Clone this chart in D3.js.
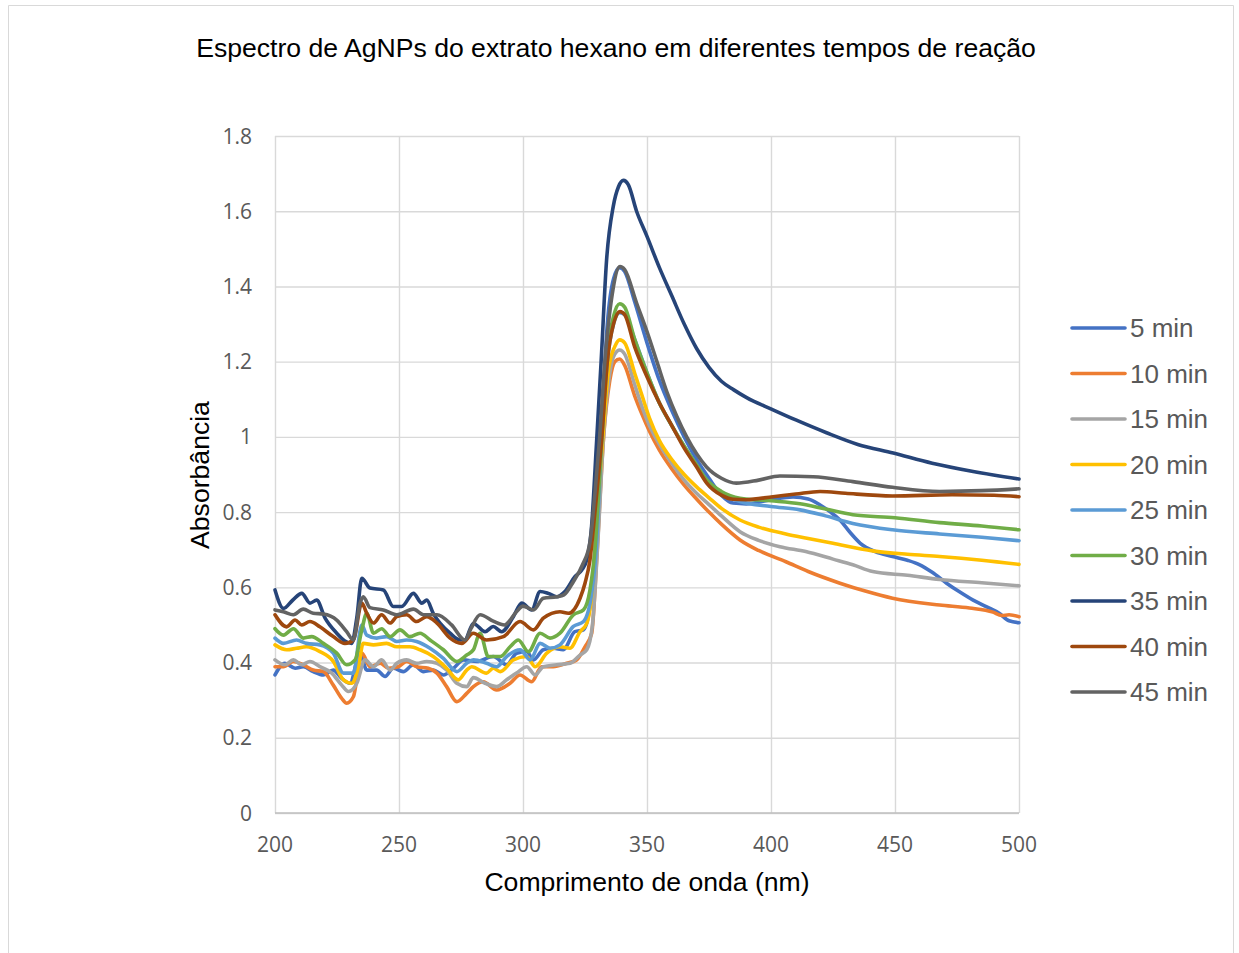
<!DOCTYPE html>
<html lang="pt">
<head>
<meta charset="UTF-8">
<title>Espectro de AgNPs</title>
<script src="https://cdn.jsdelivr.net/npm/d3@7"></script>
<style>
  html, body { margin: 0; padding: 0; background: #fff; overflow: hidden; }
  svg { display: block; }
</style>
</head>
<body>
<div id="chart"></div>
<script>
// legend / series
const seriesNames = ["5 min", "10 min", "15 min", "20 min", "25 min", "30 min", "35 min", "40 min", "45 min"]
const seriesColors = ["#4472C4", "#ED7D31", "#A5A5A5", "#FFC000", "#5B9BD5", "#70AD47", "#264478", "#9E480E", "#636363"]

const xTicks = [200, 250, 300, 350, 400, 450, 500]
const xTickLabels = ["200", "250", "300", "350", "400", "450", "500"]
const yTicks = [0, 0.2, 0.4, 0.6, 0.8, 1, 1.2, 1.4, 1.6, 1.8]
const yTickLabels = ["0", "0.2", "0.4", "0.6", "0.8", "1", "1.2", "1.4", "1.6", "1.8"]

// [wavelength nm, absorbance]
const min5 = [[200,0.367],[204,0.398],[208.1,0.385],[211.4,0.389],[215.4,0.376],[219.5,0.367],[223.5,0.38],[226.9,0.358],[230.2,0.345],[234.3,0.425],[237,0.38],[241,0.38],[244.4,0.363],[247.7,0.385],[251.7,0.376],[255.8,0.394],[259.9,0.376],[263.8,0.38],[267.9,0.367],[272,0.385],[276,0.407],[281.4,0.403],[288,0.416],[293.4,0.394],[297.4,0.425],[301.5,0.429],[304.2,0.407],[308.2,0.434],[312.2,0.438],[316.2,0.434],[320.9,0.482],[324.4,0.487],[327.7,0.584],[329.5,0.75],[331.5,1.0],[334,1.3],[336.5,1.42],[339,1.45],[341,1.44],[345,1.36],[350,1.25],[355,1.15],[360,1.07],[365,1.0],[370,0.94],[375,0.89],[380,0.845],[384.7,0.824],[390,0.822],[400,0.833],[408.9,0.84],[415,0.835],[419.8,0.819],[424,0.8],[427.8,0.779],[432,0.745],[436,0.717],[442,0.695],[449,0.682],[455,0.672],[460,0.66],[465,0.64],[470.8,0.611],[476,0.588],[481.5,0.566],[487,0.548],[492,0.531],[496,0.511],[500,0.506]]

const min10 = [[200,0.389],[203.4,0.389],[207.4,0.403],[211.4,0.394],[215.4,0.38],[219.5,0.376],[223.5,0.34],[226.9,0.305],[228.9,0.292],[231.6,0.309],[235,0.425],[238.3,0.389],[242.4,0.398],[245.7,0.385],[249.7,0.389],[253.1,0.403],[257.1,0.389],[261.8,0.385],[265.3,0.372],[269.2,0.336],[273.3,0.296],[277.3,0.318],[280,0.336],[284,0.349],[289.4,0.327],[294.8,0.345],[298.8,0.367],[303.5,0.349],[307.5,0.389],[312.2,0.389],[317.6,0.398],[321.6,0.407],[325,0.442],[327.7,0.478],[329.7,0.673],[332.5,1.0],[335,1.15],[337,1.2],[339,1.207],[341,1.19],[345,1.11],[348,1.06],[351,1.015],[355,0.965],[360,0.915],[365,0.872],[370,0.835],[375,0.8],[380,0.768],[387.5,0.726],[395,0.698],[406,0.668],[415,0.642],[427.8,0.611],[438,0.59],[449,0.571],[468,0.553],[480,0.545],[489.5,0.534],[493,0.525],[496,0.527],[500,0.522]]

const min15 = [[200,0.407],[204,0.394],[207.4,0.407],[210.8,0.394],[214.1,0.403],[218.1,0.389],[222.9,0.372],[226.9,0.34],[229.6,0.323],[233,0.345],[236.3,0.407],[239.7,0.389],[243,0.407],[246.4,0.38],[249.1,0.398],[253.1,0.407],[257.1,0.398],[261.2,0.403],[265.3,0.398],[269.2,0.38],[273.3,0.345],[277.3,0.336],[280,0.36],[284.7,0.345],[289.4,0.336],[293.4,0.354],[297.4,0.372],[301.5,0.389],[304.9,0.367],[308.2,0.389],[313.6,0.394],[319,0.398],[323,0.42],[325.7,0.434],[328,0.5],[330,0.7],[332.5,1.0],[335,1.17],[337,1.22],[339,1.231],[341,1.22],[345,1.14],[348,1.08],[351,1.03],[355,0.98],[360,0.93],[365,0.885],[370,0.85],[375,0.82],[380,0.79],[387.5,0.748],[395,0.725],[403.6,0.708],[414,0.695],[425,0.675],[433,0.66],[441,0.642],[455,0.632],[468,0.621],[485,0.612],[500,0.604]]

const min20 = [[200,0.447],[204.7,0.434],[208.7,0.438],[212.7,0.442],[218.1,0.429],[223.5,0.403],[227.6,0.354],[230.9,0.345],[233.6,0.389],[235.6,0.451],[239.7,0.447],[245,0.451],[249.1,0.442],[254.4,0.442],[258.5,0.434],[263.8,0.416],[269.2,0.385],[273.9,0.354],[277.3,0.38],[279.3,0.389],[285.3,0.372],[288,0.385],[290.8,0.376],[296.1,0.407],[301.5,0.416],[304.9,0.389],[309.6,0.425],[314.9,0.442],[318.9,0.438],[323,0.482],[325.7,0.504],[328,0.6],[330,0.8],[332.2,1.0],[334.5,1.18],[337,1.24],[339,1.258],[341,1.25],[345,1.17],[348,1.11],[351,1.05],[355,0.99],[360,0.94],[365,0.9],[370,0.867],[375,0.838],[380,0.81],[387.5,0.779],[395,0.76],[406,0.742],[415,0.73],[425,0.717],[441,0.697],[455,0.688],[468,0.682],[485,0.672],[500,0.661]]

const min25 = [[200,0.465],[203.4,0.451],[208.7,0.46],[212.7,0.451],[218.1,0.447],[223.5,0.425],[227.6,0.372],[231.6,0.372],[235,0.5],[237,0.473],[241,0.465],[245,0.469],[249.1,0.456],[253.1,0.46],[257.1,0.456],[262.5,0.438],[267.9,0.411],[273.3,0.376],[277.3,0.398],[280,0.407],[285.3,0.398],[289.4,0.389],[293.4,0.416],[298.8,0.434],[302.9,0.407],[306.9,0.451],[310.9,0.438],[314.9,0.447],[320.3,0.496],[324.4,0.509],[327.7,0.584],[329.5,0.7],[331.8,1.0],[334,1.2],[336.5,1.3],[339,1.33],[341,1.325],[345,1.26],[350,1.17],[355,1.09],[360,1.03],[365,0.975],[370,0.925],[374,0.886],[380,0.85],[387.5,0.828],[400,0.815],[411.7,0.806],[422,0.79],[433,0.77],[449,0.753],[468,0.742],[485,0.733],[500,0.724]]

const min30 = [[200,0.49],[203.4,0.473],[207.4,0.49],[211.4,0.465],[214.8,0.469],[219.5,0.451],[224.9,0.425],[228.9,0.394],[232.3,0.407],[235,0.487],[237,0.531],[239.7,0.478],[243,0.49],[246.4,0.469],[250.4,0.487],[254.4,0.469],[258.5,0.478],[262.5,0.46],[267.9,0.434],[273.3,0.403],[277.3,0.42],[280,0.434],[282.7,0.478],[286,0.416],[290.8,0.416],[294.8,0.442],[298.1,0.46],[302.2,0.429],[306.9,0.478],[310.9,0.465],[314.9,0.478],[320.3,0.527],[324.4,0.54],[327,0.593],[329,0.7],[331.8,1.0],[334,1.22],[336.5,1.32],[339,1.354],[341,1.345],[345,1.26],[350,1.17],[355,1.09],[360,1.03],[365,0.975],[370,0.925],[374,0.886],[380,0.855],[387.5,0.837],[400,0.83],[411.7,0.822],[422,0.808],[433,0.793],[450,0.785],[468,0.772],[485,0.763],[500,0.753]]

const min35 = [[200,0.593],[203.4,0.544],[207,0.565],[210.8,0.584],[214.1,0.558],[216.8,0.566],[220.2,0.518],[224.9,0.478],[228,0.458],[230.9,0.451],[233,0.52],[235,0.624],[238.3,0.598],[243.7,0.593],[247.7,0.549],[251.1,0.549],[255.8,0.584],[259.2,0.558],[261.2,0.566],[263.8,0.531],[270.6,0.478],[274.6,0.46],[276.5,0.46],[280,0.504],[284.7,0.482],[288,0.496],[291.4,0.482],[296.1,0.522],[299.5,0.558],[303.5,0.54],[306.9,0.589],[310.2,0.584],[313.6,0.575],[316.9,0.589],[321,0.629],[323.7,0.646],[325.7,0.673],[327.5,0.75],[329.7,0.99],[331.5,1.2],[333.7,1.47],[336.4,1.613],[338.5,1.665],[340.5,1.682],[342.5,1.67],[345.8,1.6],[350,1.533],[355,1.45],[360,1.375],[365,1.3],[370,1.235],[375,1.185],[380,1.148],[385,1.125],[390,1.105],[400.8,1.072],[410,1.045],[422.4,1.011],[435,0.98],[449.3,0.957],[465,0.93],[481.5,0.908],[500,0.888]]

const min40 = [[200,0.527],[204.7,0.495],[208.1,0.513],[210.8,0.5],[214.1,0.509],[218.1,0.495],[223.5,0.469],[228.2,0.451],[231.6,0.46],[235,0.558],[237,0.531],[239.7,0.505],[243,0.527],[246.4,0.505],[249.1,0.522],[253.1,0.527],[257.1,0.509],[261.2,0.522],[265.3,0.505],[270.6,0.465],[275.3,0.451],[280,0.478],[285.3,0.46],[292.1,0.469],[298.8,0.509],[304.2,0.487],[308.2,0.518],[314.9,0.535],[318.3,0.531],[323,0.571],[325,0.611],[327,0.673],[329,0.8],[331.8,1.0],[334,1.2],[336.5,1.3],[339.1,1.333],[341,1.325],[345,1.24],[350,1.16],[355,1.09],[360,1.03],[365,0.97],[370,0.92],[374,0.878],[380,0.845],[384.7,0.834],[390,0.833],[400.8,0.841],[410,0.848],[419.8,0.855],[430,0.85],[449,0.843],[473,0.846],[490,0.845],[500,0.841]]

const min45 = [[200,0.54],[203.4,0.535],[207.4,0.527],[211.4,0.542],[215.4,0.531],[219.5,0.529],[224.9,0.513],[228.9,0.482],[231.6,0.46],[234.3,0.558],[235.6,0.575],[238.3,0.546],[243.7,0.54],[249.1,0.527],[255.8,0.542],[259.9,0.527],[265.3,0.527],[271.2,0.5],[276.6,0.46],[279,0.49],[282.7,0.527],[288,0.51],[292.5,0.5],[297.4,0.535],[300,0.55],[304.2,0.54],[308.2,0.571],[313.6,0.575],[316.5,0.58],[320.3,0.615],[324,0.66],[327,0.72],[329,0.85],[330.8,0.99],[333,1.2],[336,1.38],[339.1,1.453],[341,1.445],[345.8,1.356],[350,1.28],[354,1.2],[358,1.12],[362,1.055],[366,1.0],[370,0.955],[374,0.92],[380,0.89],[386,0.877],[395,0.885],[403.6,0.896],[417,0.894],[433,0.881],[449,0.866],[468,0.855],[485,0.857],[500,0.862]]

const allSeries = [min5, min10, min15, min20, min25, min30, min35, min40, min45]

let width = 1239
let height = 953
let margin = {top: 136, right: 220, bottom: 140, left: 275}
let innerWidth = 1019 - margin.left
let innerHeight = 813 - margin.top

var svg = d3.select("#chart")
            .append("svg")
            .attr("width", width)
            .attr("height", height)

// chart area frame: left, top and right sides (bottom falls outside the picture)
svg.append("path")
   .attr("d", "M8.5," + height + "V5.5H1233.5V" + height)
   .attr("fill", "none")
   .attr("stroke", "#d9d9d9")

var g = svg.append("g")
           .attr("transform", "translate(" + margin.left + "," + margin.top + ")")

var x = d3.scaleLinear().domain([200, 500]).range([0, innerWidth])
var y = d3.scaleLinear().domain([0, 1.8]).range([innerHeight, 0])

// gridlines
const yGrid = g.append("g")
    .call(d3.axisLeft(y).tickValues(yTicks).tickFormat("").tickSize(-innerWidth))
yGrid.select(".domain").remove()
yGrid.selectAll(".tick line").attr("stroke", "#d9d9d9").attr("stroke-width", 1.4)

const xGrid = g.append("g")
    .call(d3.axisTop(x).tickValues(xTicks).tickFormat("").tickSize(-innerHeight))
xGrid.select(".domain").remove()
xGrid.selectAll(".tick line").attr("stroke", "#d9d9d9").attr("stroke-width", 1.4)

// bottom axis line
g.append("line")
 .attr("x1", 0).attr("x2", innerWidth)
 .attr("y1", y(0)).attr("y2", y(0))
 .attr("stroke", "#bfbfbf").attr("stroke-width", 1.4)

// tick labels
yTicks.forEach(function(v, i) {
  g.append("text")
   .attr("x", -23).attr("y", y(v)).attr("dy", "0.36em")
   .attr("text-anchor", "end")
   .style("font-family", "Open Sans, sans-serif")
   .style("font-size", "21px")
   .attr("fill", "#595959")
   .text(yTickLabels[i])
})
xTicks.forEach(function(v, i) {
  g.append("text")
   .attr("x", x(v)).attr("y", innerHeight + 39)
   .attr("text-anchor", "middle")
   .style("font-family", "Open Sans, sans-serif")
   .style("font-size", "21px")
   .attr("fill", "#595959")
   .text(xTickLabels[i])
})

// series
var line = d3.line()
             .x(d => x(d[0]))
             .y(d => y(d[1]))
             .curve(d3.curveMonotoneX)

g.append("g")
 .selectAll("path")
 .data(allSeries)
 .enter()
 .append("path")
   .attr("d", line)
   .attr("fill", "none")
   .attr("stroke", (d, i) => seriesColors[i])
   .attr("stroke-width", 3.6)
   .attr("stroke-linejoin", "round")
   .attr("stroke-linecap", "round")

// title
svg.append("text")
   .attr("x", 616).attr("y", 57)
   .attr("text-anchor", "middle")
   .style("font-family", "Liberation Sans, Arial, sans-serif")
   .style("font-size", "26.6px")
   .attr("fill", "#000")
   .text("Espectro de AgNPs do extrato hexano em diferentes tempos de reação")

// axis titles
svg.append("text")
   .attr("x", 647).attr("y", 891)
   .attr("text-anchor", "middle")
   .style("font-family", "Liberation Sans, Arial, sans-serif")
   .style("font-size", "26.6px")
   .attr("fill", "#000")
   .text("Comprimento de onda (nm)")

svg.append("text")
   .attr("transform", "translate(209,475) rotate(-90)")
   .attr("text-anchor", "middle")
   .style("font-family", "Liberation Sans, Arial, sans-serif")
   .style("font-size", "26.6px")
   .attr("fill", "#000")
   .text("Absorbância")

// legend
const legend = svg.append("g").attr("transform", "translate(1072,328)")
seriesNames.forEach(function(name, i) {
  legend.append("line")
        .attr("x1", 0).attr("x2", 53)
        .attr("y1", i * 45.5).attr("y2", i * 45.5)
        .attr("stroke", seriesColors[i])
        .attr("stroke-width", 3.6)
        .attr("stroke-linecap", "round")
  legend.append("text")
        .attr("x", 58).attr("y", i * 45.5)
        .attr("dy", "0.36em")
        .style("font-family", "Liberation Sans, Arial, sans-serif")
        .style("font-size", "26px")
        .attr("fill", "#595959")
        .text(name)
})
</script>
</body>
</html>
